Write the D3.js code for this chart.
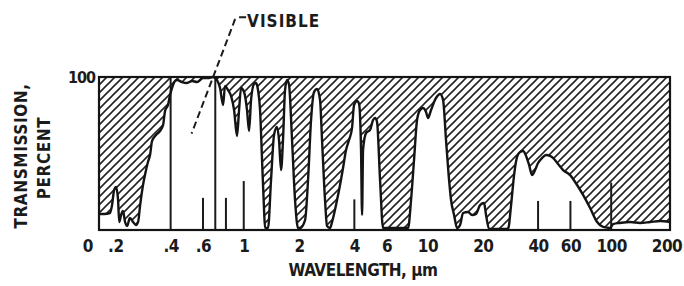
<!DOCTYPE html>
<html>
<head>
<meta charset="utf-8">
<script src="https://cdn.jsdelivr.net/npm/d3@7"></script>
<style>
  body { margin: 0; background: #fff; }
  text { font-family: "Liberation Sans Narrow", "DejaVu Sans Condensed", "Arial Narrow", sans-serif;
         font-weight: bold; fill: #1b1b1b; }
</style>
</head>
<body>
<script>
// Atmospheric transmission vs wavelength

// wavelength, micrometres
var wavelength = [
  0.163, 0.174, 0.187, 0.192, 0.197, 0.202, 0.207, 0.210, 0.215, 0.220,
  0.226, 0.232, 0.240, 0.250, 0.259, 0.266, 0.273, 0.283, 0.290, 0.301,
  0.309, 0.317, 0.333, 0.350, 0.364, 0.373, 0.387, 0.397, 0.407, 0.423,
  0.434, 0.461, 0.491, 0.523, 0.557, 0.600, 0.639, 0.681, 0.715, 0.743,
  0.772, 0.791, 0.821, 0.853, 0.886, 0.919, 0.943, 0.967, 1.004, 1.042,
  1.069, 1.096, 1.138, 1.167, 1.196, 1.227, 1.258, 1.290, 1.306, 1.356,
  1.408, 1.462, 1.518, 1.556, 1.596, 1.636, 1.678, 1.721, 1.764, 1.832,
  1.902, 1.975, 2.025, 2.157, 2.239, 2.325, 2.414, 2.506, 2.602, 2.668,
  2.770, 2.840, 2.950, 3.024, 3.220, 3.343, 3.471, 3.604, 3.742, 3.886,
  3.985, 4.138, 4.243, 4.350, 4.406, 4.461, 4.632, 4.870, 5.057, 5.185,
  5.316, 5.520, 5.732, 7.842, 8.141, 8.452, 8.776, 9.114, 9.462, 9.824,
  10.07, 10.46, 11.14, 11.71, 12.16, 12.62, 13.11, 13.44, 13.96, 14.49,
  15.05, 15.62, 16.63, 17.49, 18.39, 19.33, 20.33, 20.84, 21.64, 27.47,
  28.52, 29.61, 30.74, 31.92, 33.15, 34.42, 35.73, 37.11, 38.53, 40.0,
  42.06, 44.22, 46.49, 48.88, 51.39, 54.73, 59.74, 65.22, 70.31, 76.77,
  83.81, 90.35, 98.63, 102.4, 111.8, 126.7, 143.7, 162.8, 184.6, 209
];

// transmission, percent
var transmission = [
  10.5, 10.5, 11.1, 16.3, 26.1, 28.1, 19.6, 5.2, 9.8, 12.4,
  5.2, 2.6, 7.8, 5.2, 3.3, 5.2, 16.3, 29.4, 35.9, 44.4,
  49, 58.2, 62.1, 64.7, 68.6, 77.8, 81.7, 88.2, 92.8, 97.4,
  98, 96.7, 96.1, 97.4, 96.7, 99.3, 99.3, 100, 98, 92.8,
  81.7, 94.1, 91.5, 87.6, 78.4, 61.4, 78.4, 92.8, 90.2, 78.4,
  64.7, 85, 95.4, 96.1, 91.5, 78.4, 45.8, 13.1, 1.3, 1.3,
  32.7, 62.1, 67.3, 58.8, 39.2, 58.8, 91.5, 98, 95, 58.8,
  19.6, 1.3, 1.3, 6.5, 32.7, 71.9, 90.2, 92.2, 85, 58.8,
  19.6, 2.6, 1.3, 5.2, 19.6, 29.4, 40.5, 52.3, 58.8, 66.7,
  81.7, 84.3, 82.4, 52.3, 9.8, 52.3, 63.4, 65.4, 71.9, 73.2,
  70.6, 32.7, 1.3, 1.3, 19.6, 45.8, 71.9, 78.4, 79.7, 77.1,
  73.2, 78.4, 86.3, 88.9, 85, 58.8, 32.7, 19.6, 9.8, 1.3,
  3.3, 11.1, 11.8, 9.8, 10.5, 16.3, 17.6, 9.8, 0.7, 0.7,
  16.3, 35.9, 47.7, 51, 51.6, 48.4, 42.5, 35.9, 39.2, 43.8,
  47.1, 49, 48.4, 46.4, 43.1, 39.2, 35.9, 29.4, 22.9, 14.4,
  5.2, 2, 1.3, 3.9, 4.6, 5.2, 4.6, 5.2, 5.9, 5.2
];

// short marker lines standing on the axis
var markWave   = [0.4, 0.6, 0.7, 0.8, 1, 4, 40, 60, 100];
var markHeight = [100, 21, 100, 21, 32, 20, 19, 19, 31];

// axis ticks
var tickValues = [0.2, 0.4, 0.6, 1, 2, 4, 6, 10, 20, 40, 60, 100, 200];
var tickLabels = [".2", ".4", ".6", "1", "2", "4", "6", "10", "20", "40", "60", "100", "200"];

var W = 684, H = 286;
var margin = {top: 77, right: 14, bottom: 56, left: 99};

var svg = d3.select("body").append("svg")
  .attr("width", W)
  .attr("height", H);

var x = d3.scaleLog()
  .domain([0.163, 209])
  .range([margin.left, W - margin.right]);

var y = d3.scaleLinear()
  .domain([0, 100])
  .range([H - margin.bottom, margin.top]);

var data = wavelength.map(function(w, i) { return {w: w, t: transmission[i]}; });

// hatch pattern for the absorbed part
var defs = svg.append("defs");
defs.append("pattern")
  .attr("id", "hatch")
  .attr("patternUnits", "userSpaceOnUse")
  .attr("width", 8)
  .attr("height", 8)
  .append("path")
    .attr("d", "M0,8 L8,0 M-1,1 L1,-1 M7,9 L9,7")
    .attr("stroke", "#222")
    .attr("stroke-width", 1.6);

var area = d3.area()
  .x(function(d) { return x(d.w); })
  .y0(y(100))
  .y1(function(d) { return y(d.t); })
  .curve(d3.curveMonotoneX);

var line = d3.line()
  .x(function(d) { return x(d.w); })
  .y(function(d) { return y(d.t); })
  .curve(d3.curveMonotoneX);

svg.append("path")
  .datum(data)
  .attr("d", area)
  .attr("fill", "url(#hatch)");

// marker lines
svg.selectAll(".mark")
  .data(markWave)
  .enter().append("line")
    .attr("class", "mark")
    .attr("x1", function(d) { return x(d); })
    .attr("x2", function(d) { return x(d); })
    .attr("y1", y(0))
    .attr("y2", function(d, i) { return y(markHeight[i]); })
    .attr("stroke", "#1b1b1b")
    .attr("stroke-width", 2);

svg.append("path")
  .datum(data)
  .attr("d", line)
  .attr("fill", "none")
  .attr("stroke", "#141414")
  .attr("stroke-width", 2.4)
  .attr("stroke-linejoin", "round");

// frame
svg.append("rect")
  .attr("x", x.range()[0])
  .attr("y", y(100))
  .attr("width", x.range()[1] - x.range()[0])
  .attr("height", y(0) - y(100))
  .attr("fill", "none")
  .attr("stroke", "#141414")
  .attr("stroke-width", 2.2);

// x axis labels
var xAxis = svg.append("g")
  .attr("transform", "translate(0," + y(0) + ")")
  .call(d3.axisBottom(x)
    .tickValues(tickValues)
    .tickFormat(function(d, i) { return tickLabels[i]; })
    .tickSize(0)
    .tickPadding(10));
xAxis.select(".domain").remove();
xAxis.selectAll("text")
  .attr("font-size", 17)
  .attr("font-family", null)
  .attr("letter-spacing", "-0.5px");

xAxis.append("text")
  .attr("x", x.range()[0] - 11)
  .attr("y", 10)
  .attr("dy", "0.71em")
  .attr("text-anchor", "middle")
  .attr("font-size", 17)
  .text("0");

// y axis label
var yAxis = svg.append("g")
  .attr("transform", "translate(" + x.range()[0] + ",0)")
  .call(d3.axisLeft(y).tickValues([100]).tickSize(0).tickPadding(4));
yAxis.select(".domain").remove();
yAxis.selectAll("text")
  .attr("font-size", 16)
  .attr("font-family", null)
  .attr("letter-spacing", "-1px");

// axis titles
svg.append("text")
  .attr("x", 363)
  .attr("y", 276)
  .attr("text-anchor", "middle")
  .attr("font-size", 17)
  .attr("letter-spacing", "-0.5px")
  .text("WAVELENGTH, \u00b5m");

svg.append("text")
  .attr("transform", "translate(26.5,156) rotate(-90)")
  .attr("text-anchor", "middle")
  .attr("font-size", 17)
  .attr("letter-spacing", "0.6px")
  .text("TRANSMISSION,");

svg.append("text")
  .attr("transform", "translate(49.5,158) rotate(-90)")
  .attr("text-anchor", "middle")
  .attr("font-size", 17)
  .attr("letter-spacing", "0.6px")
  .text("PERCENT");

// "VISIBLE" call-out, placed in data units
var tip = [0.52, 63], elbow = [0.886, 136], start = [1.03, 139];
svg.append("path")
  .attr("d", "M" + x(start[0]) + "," + y(start[1]) +
             " L" + (x(elbow[0]) + 5) + "," + y(start[1]) +
             " Q" + x(elbow[0]) + "," + y(start[1] - 1) + " " + x(elbow[0]) + "," + y(elbow[1]) +
             " L" + x(tip[0]) + "," + y(tip[1]))
  .attr("fill", "none")
  .attr("stroke", "#1b1b1b")
  .attr("stroke-width", 2)
  .attr("stroke-dasharray", "7,4");

svg.append("text")
  .attr("x", x(start[0]) + 1)
  .attr("y", y(start[1]) + 10)
  .attr("font-size", 17)
  .attr("letter-spacing", "1px")
  .text("VISIBLE");
</script>
</body>
</html>
